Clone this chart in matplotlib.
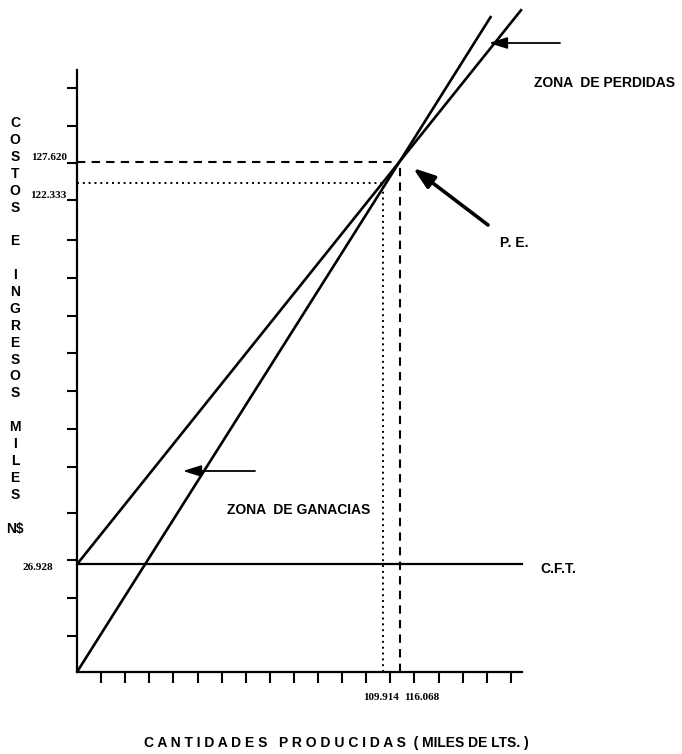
import numpy as np
import matplotlib
matplotlib.use("Agg")
import matplotlib.pyplot as plt

# valores (miles de lts. / miles N$)
cft = 26.928
pe_q, pe_y = 116.068, 127.620
pt_q, pt_y = 109.914, 122.333

ingresos_q = [0, pe_q, 149.0]
ingresos_y = [0, pe_y, 164.0]
costos_q = [0, pe_q, 160.0]
costos_y = [cft, pe_y, 165.7]
cft_q = [0, 160.0]

xticks = np.arange(1, 19) * 8.67
yticks = [9, 18.5, 28, 39.75, 51.25, 60.75, 70.25, 79.75, 89, 98.5, 108, 118, 127.25, 136.5, 146]

ylabel_letters = list("COSTOS") + [""] + ["E"] + [""] + list("INGRESOS") + [""] + list("MILES") + [""] + ["N$"]

SANS = ["Liberation Sans", "DejaVu Sans"]
SERIF = ["Liberation Serif", "DejaVu Serif"]

# pixel -> data (origen en 77,672 px)
def px(x, y):
    return (x - 77) / 2.78, (672 - y) / 4.0

fig = plt.figure(figsize=(6.82, 7.54), dpi=100)
ax = fig.add_axes([0, 0, 1, 1])
ax.set_xlim(px(0, 0)[0], px(682, 0)[0])
ax.set_ylim(px(0, 754)[1], px(0, 0)[1])

for s in ["top", "right"]:
    ax.spines[s].set_visible(False)
ax.spines["left"].set_position(("data", 0))
ax.spines["bottom"].set_position(("data", 0))
ax.spines["left"].set_bounds(0, 150.5)
ax.spines["bottom"].set_bounds(0, 160)
ax.spines["left"].set_linewidth(1.6)
ax.spines["bottom"].set_linewidth(1.6)
ax.set_xticks(xticks, labels=[])
ax.set_yticks(yticks, labels=[])
ax.tick_params(axis="x", direction="out", length=8, width=1.5)
ax.tick_params(axis="y", direction="out", length=7, width=1.5)

# lineas
ax.plot(ingresos_q, ingresos_y, color="black", lw=1.9, solid_capstyle="butt")
ax.plot(costos_q, costos_y, color="black", lw=1.9, solid_capstyle="butt")
ax.plot(cft_q, [cft, cft], color="black", lw=1.6)

# punto de equilibrio
ax.plot([0, pe_q], [pe_y, pe_y], color="black", lw=1.5, dashes=(4, 3))
ax.plot([pe_q, pe_q], [0, pe_y], color="black", lw=1.5, dashes=(4, 3))
ax.plot([0, pt_q], [pt_y, pt_y], color="black", lw=1.4, dashes=(1, 2))
ax.plot([pt_q, pt_q], [0, pt_y], color="black", lw=1.4, dashes=(1, 2))

# etiquetas numericas
num = dict(family=SERIF, fontweight="bold", fontsize=8, va="center")
ax.text(*px(67, 158), "127.620", ha="right", **num)
ax.text(*px(67, 196), "122.333", ha="right", **num)
ax.text(*px(53, 568), "26.928", ha="right", **num)
ax.text(*px(381, 697), "109.914", ha="center", **num)
ax.text(*px(404, 697), "116.068", ha="left", **num)

# flechas
head = "-|>,head_length=1.1,head_width=0.35"
ax.annotate("", xy=px(489, 43), xytext=px(560, 43),
            arrowprops=dict(arrowstyle=head, color="black", lw=1.3, shrinkA=0, shrinkB=0))
ax.annotate("", xy=px(413, 168), xytext=px(488, 225),
            arrowprops=dict(arrowstyle="-|>,head_length=1.3,head_width=0.45", color="black", lw=2.6,
                            shrinkA=0, shrinkB=0))
ax.annotate("", xy=px(183, 471), xytext=px(255, 471),
            arrowprops=dict(arrowstyle=head, color="black", lw=1.3, shrinkA=0, shrinkB=0))

lab = dict(family=SANS, fontweight="bold", fontsize=10, va="center", ha="left")
ax.text(*px(534, 83), "ZONA  DE PERDIDAS", **lab)
ax.text(*px(500, 243), "P. E.", **lab)
ax.text(*px(227, 510), "ZONA  DE GANACIAS", **lab)
ax.text(*px(540, 569), "C.F.T.", **lab)

# eje y, letras en vertical
for i, ch in enumerate(ylabel_letters):
    if ch:
        ax.text(*px(15, 123 + i * 16.9), ch, family=SANS, fontweight="bold",
                fontsize=10, ha="center", va="center")

ax.text(*px(336, 743), "C A N T I D A D E S   P R O D U C I D A S  ( MILES DE LTS. )",
        family=SANS, fontweight="bold", fontsize=10, ha="center", va="center")

fig.savefig("out.png", dpi=100)
